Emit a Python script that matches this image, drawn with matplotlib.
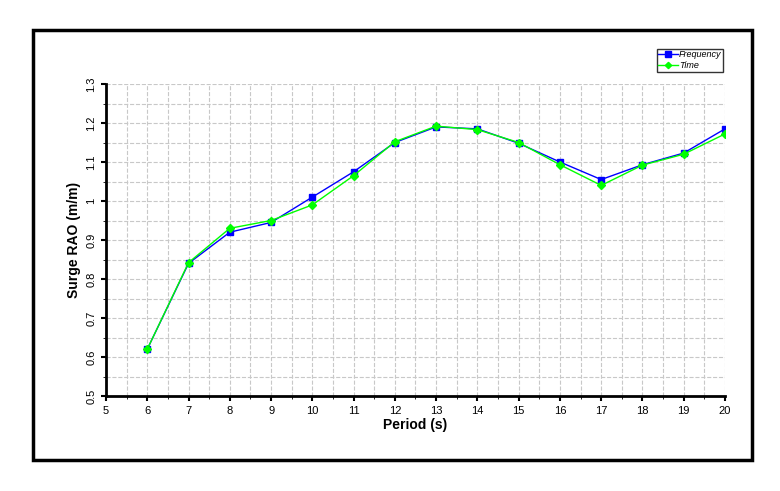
import matplotlib
matplotlib.use("Agg")
import matplotlib.pyplot as plt
from matplotlib.patches import Rectangle
import numpy as np

plt.rcParams['font.family'] = ['Liberation Sans', 'DejaVu Sans']

period = [6, 7, 8, 9, 10, 11, 12, 13, 14, 15, 16, 17, 18, 19, 20]
freq = [0.62, 0.84, 0.92, 0.945, 1.01, 1.075, 1.15, 1.19, 1.185, 1.148, 1.10, 1.055, 1.093, 1.123, 1.185]
time_ = [0.62, 0.842, 0.93, 0.95, 0.99, 1.065, 1.152, 1.192, 1.183, 1.15, 1.093, 1.04, 1.092, 1.12, 1.172]

W, H = 780, 491
fig = plt.figure(figsize=(W/100, H/100), dpi=100)
fig.patches.append(Rectangle((33/W, 1-460/H), (752-33)/W, (460-30)/H, transform=fig.transFigure,
                             fill=False, edgecolor='black', linewidth=2.5))
ax = fig.add_axes([106/W, 1-396/H, (725-106)/W, (396-84)/H])
ax.plot(period, freq, color='#0000ff', marker='s', markersize=5, linewidth=1, label='Frequency')
ax.plot(period, time_, color='#00ff00', marker='D', markersize=4, linewidth=1, label='Time')
ax.set_xlim(5, 20)
ax.set_ylim(0.5, 1.3)
ax.set_xticks(range(5, 21))
yt = np.round(np.arange(0.5, 1.31, 0.1), 1)
ax.set_yticks(yt)
ax.set_yticklabels([f"{v:g}" for v in yt], rotation=90, va='center')
ax.set_xticks(np.arange(5, 20.01, 0.5), minor=True)
ax.set_yticks(np.arange(0.5, 1.301, 0.05), minor=True)
ax.grid(which='both', color='#c8c8c8', linestyle='--', linewidth=0.8)
ax.tick_params(labelsize=8, width=1.5)
ax.tick_params(which='minor', length=2)
for s in ['top', 'right']:
    ax.spines[s].set_visible(False)
for s in ['left', 'bottom']:
    ax.spines[s].set_linewidth(2)
ax.set_xlabel('Period (s)', fontsize=10, fontweight='bold', labelpad=2)
ax.set_ylabel('Surge RAO (m/m)', fontsize=10, fontweight='bold')
leg = fig.legend(loc='upper left', bbox_to_anchor=(652/W, 1-44/H), frameon=True,
                 fancybox=False, edgecolor='black', handlelength=2.2, borderpad=0.2,
                 labelspacing=0.2, handletextpad=0.1, markerscale=0.8,
                 prop={'style': 'italic', 'size': 6.5, 'family': ['Liberation Sans']})
leg.get_frame().set_linewidth(1)
fig.savefig('out.png', dpi=100)
